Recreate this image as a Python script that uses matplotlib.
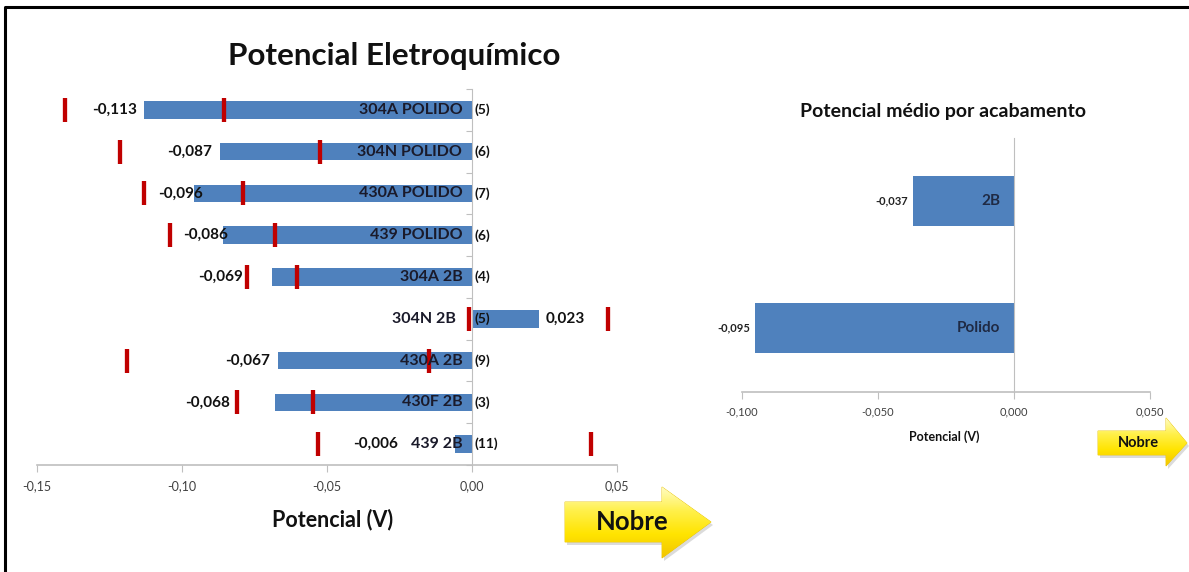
import numpy as np
import matplotlib
matplotlib.use("Agg")
import matplotlib.pyplot as plt
from matplotlib.patches import Polygon

# ------------------------------------------
# Data
# ------------------------------------------

amostras = ["304A POLIDO", "304N POLIDO", "430A POLIDO", "439 POLIDO",
            "304A 2B", "304N 2B", "430A 2B", "430F 2B", "439 2B"]
potencial = [-0.113, -0.087, -0.096, -0.086, -0.069, 0.023, -0.067, -0.068, -0.006]
desvio = [0.0275, 0.0345, 0.017, 0.018, 0.0085, 0.024, 0.052, 0.013, 0.047]
n_medidas = [5, 6, 7, 6, 4, 5, 9, 3, 11]

acabamentos = ["2B", "Polido"]
potencial_medio = [-0.037, -0.095]

# gap (px) between each value label and the end of its bar
gap_rotulo = [7, 8, -9, -5, 29, 7, 8, 45, 57]

# ------------------------------------------
# Style
# ------------------------------------------

plt.rcParams["font.family"] = ["Lato", "DejaVu Sans"]
AZUL = "#4F81BD"
VERMELHO = "#C00000"
CINZA = "#BFBFBF"
TEXTO = "#111111"
W, H = 1189, 572


def virgula(v, casas):
    return f"{v:.{casas}f}".replace(".", ",")


def px(x, y, w=0, h=0):
    # pixel box (top-left origin) -> figure fraction [l, b, w, h]
    return [x / W, 1 - (y + h) / H, w / W, h / H]


fig = plt.figure(figsize=(W / 100, H / 100), dpi=100)

# background layer in pixel coords for frame and arrows
bg = fig.add_axes([0, 0, 1, 1])
bg.set_xlim(0, W)
bg.set_ylim(H, 0)
bg.axis("off")
bg.plot([5, 5, W], [H, 7, 7], color="black", lw=2.2, solid_capstyle="butt")


def seta(x0, x1, xh, y0, y1, yt, yb, texto, tam, dx):
    ym = (y0 + y1) / 2
    pts = [(x0, y0), (xh, y0), (xh, yt), (x1, ym), (xh, yb), (xh, y1), (x0, y1)]
    sombra = Polygon([(x + 2, y + 3) for x, y in pts], closed=True,
                     facecolor="#999999", alpha=0.35, edgecolor="none")
    bg.add_patch(sombra)
    contorno = Polygon(pts, closed=True, facecolor="none", edgecolor="#E8C200", lw=0.6)
    bg.add_patch(contorno)
    grad = np.linspace(0, 1, 64)[:, None]
    cores = matplotlib.colors.LinearSegmentedColormap.from_list(
        "am", ["#FFFCC0", "#FFF04A", "#FFE400", "#F2C500"])
    img = bg.imshow(np.repeat(grad, 2, axis=1), cmap=cores, aspect="auto",
                    origin="upper", extent=(x0, x1, yb, yt), zorder=1)
    img.set_clip_path(contorno)
    bg.text((x0 + xh) / 2 + dx, ym, texto, ha="center", va="center",
            fontsize=tam, fontweight="bold", color=TEXTO, zorder=3)


seta(565, 711, 662, 502, 542, 487, 558, "Nobre", 18.5, 19)
seta(1098, 1187, 1166, 431, 455, 418, 466, "Nobre", 10.5, 6)
bg.set_xlim(0, W)
bg.set_ylim(H, 0)

# ------------------------------------------
# Left chart: potential per sample
# ------------------------------------------

ax = fig.add_axes(px(37, 89, 580, 376))
y = np.arange(len(amostras))
ax.barh(y, potencial, height=0.42, color=AZUL, zorder=2)
ax.errorbar(potencial, y, xerr=desvio, fmt="none", ecolor=VERMELHO,
            elinewidth=0, capsize=8.6, capthick=3.1, zorder=3)
ax.set_xlim(-0.15, 0.05)
ax.set_ylim(len(amostras) - 0.5, -0.5)

for i, (nome, v, n) in enumerate(zip(amostras, potencial, n_medidas)):
    g = gap_rotulo[i] * 0.72
    lado = -1 if v < 0 else 1
    ax.annotate(virgula(v, 3), (v, i), xytext=(lado * g, 0), textcoords="offset points",
                ha="right" if v < 0 else "left", va="center", fontsize=11,
                fontweight="bold", color=TEXTO)
    ax.annotate(nome, (0, i), xytext=(-7 if v < 0 else -11.5, 0),
                textcoords="offset points", ha="right", va="center", fontsize=11.5,
                fontweight="bold", color="#1a1a2a", zorder=4)
    ax.annotate(f"({n})", (0, i), xytext=(1.5, 0), textcoords="offset points",
                ha="left", va="center", fontsize=10, fontweight="bold",
                color=TEXTO, zorder=4)

for lado in ["top", "right"]:
    ax.spines[lado].set_visible(False)
ax.spines["left"].set_position(("data", 0))
ax.spines["left"].set_color(CINZA)
ax.spines["bottom"].set_color(CINZA)
ax.spines["bottom"].set_linewidth(1.2)
ax.set_yticks(np.arange(len(amostras) + 1) - 0.5)
ax.set_yticklabels([])
ax.tick_params(axis="y", length=4, color=CINZA)
ax.set_xticks([-0.15, -0.10, -0.05, 0.00, 0.05])
ax.set_xticklabels([virgula(t, 2) for t in [-0.15, -0.10, -0.05, 0.00, 0.05]])
ax.tick_params(axis="x", length=5, color=CINZA, labelsize=9, labelcolor="#404040", pad=6)
ax.patch.set_alpha(0)

fig.text(394 / W, 1 - 56 / H, "Potencial Eletroquímico", ha="center", va="center",
         fontsize=22.6, fontweight="bold", color=TEXTO)
fig.text(333 / W, 1 - 520 / H, "Potencial (V)", ha="center", va="center",
         fontsize=15.5, fontweight="bold", color=TEXTO)

# ------------------------------------------
# Right chart: mean potential per finish
# ------------------------------------------

ax2 = fig.add_axes(px(741.7, 137.5, 408.3, 254))
y2 = np.arange(len(acabamentos))
ax2.barh(y2, potencial_medio, height=0.4, color=AZUL, zorder=2)
ax2.set_xlim(-0.10, 0.05)
ax2.set_ylim(len(acabamentos) - 0.5, -0.5)

for i, (nome, v) in enumerate(zip(acabamentos, potencial_medio)):
    ax2.annotate(virgula(v, 3), (v, i), xytext=(-4, 0), textcoords="offset points",
                 ha="right", va="center", fontsize=8, fontweight="bold", color="#222222")
    ax2.annotate(nome, (0, i), xytext=(-10, 0), textcoords="offset points",
                 ha="right", va="center", fontsize=11, fontweight="bold", color="#1F2A44")

for lado in ["top", "right"]:
    ax2.spines[lado].set_visible(False)
ax2.spines["left"].set_position(("data", 0))
ax2.spines["left"].set_color(CINZA)
ax2.spines["bottom"].set_color(CINZA)
ax2.spines["bottom"].set_linewidth(1.2)
ax2.set_yticks([])
ax2.set_xticks([-0.10, -0.05, 0.00, 0.05])
ax2.set_xticklabels([virgula(t, 3) for t in [-0.10, -0.05, 0.00, 0.05]])
ax2.tick_params(axis="x", length=5, color=CINZA, labelsize=8, labelcolor="#404040", pad=6)
ax2.patch.set_alpha(0)

fig.text(943 / W, 1 - 111 / H, "Potencial médio por acabamento", ha="center", va="center",
         fontsize=14, fontweight="bold", color=TEXTO)
fig.text(944 / W, 1 - 437 / H, "Potencial (V)", ha="center", va="center",
         fontsize=9, fontweight="bold", color=TEXTO)

fig.savefig("out.png", dpi=100, facecolor="white")
